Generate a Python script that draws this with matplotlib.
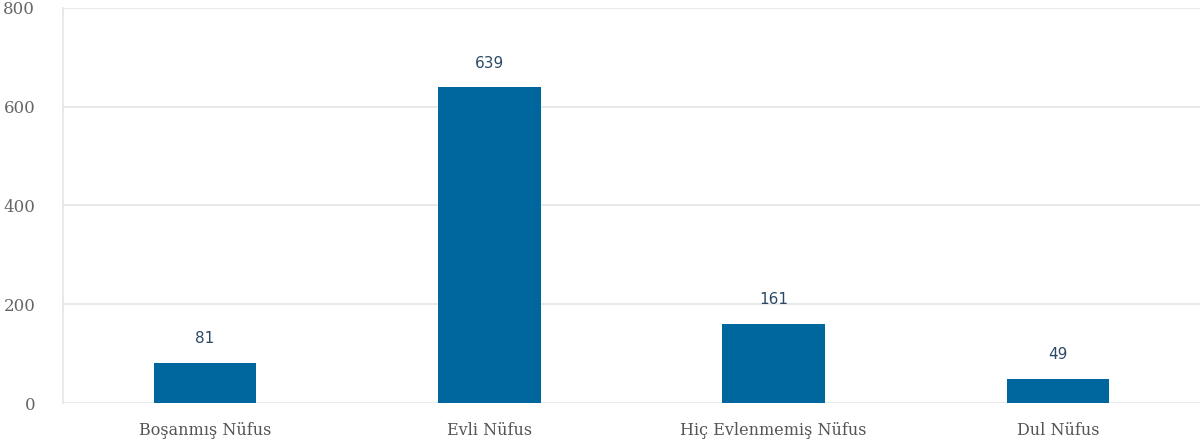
import matplotlib.pyplot as plt

categories = ['Boşanmış Nüfus', 'Evli Nüfus', 'Hiç Evlenmemiş Nüfus', 'Dul Nüfus']
values = [81, 639, 161, 49]
y_ticks = [0, 200, 400, 600, 800]

bar_color = '#00669e'
grid_color = '#e3e6e8'

fig = plt.figure(figsize=(12, 4.48), dpi=100)
ax = fig.add_axes([63 / 1200, 45 / 448, 1 - 63 / 1200, 395 / 448])

x = range(len(categories))
bars = ax.bar(x, values, width=0.36, color=bar_color, zorder=3)

for rect, v in zip(bars, values):
    ax.annotate(str(v), (rect.get_x() + rect.get_width() / 2, v),
                xytext=(0, 12), textcoords='offset points',
                ha='center', va='bottom', fontsize=11,
                color='#2c4a66', family='DejaVu Sans')

ax.set_xlim(-0.5, len(categories) - 0.5)
ax.set_ylim(0, 800)
ax.set_yticks(y_ticks)
ax.set_xticks(list(x))
ax.set_xticklabels(categories, family='DejaVu Serif', fontsize=11.5, color='#555555')
for lbl in ax.get_yticklabels():
    lbl.set_family('DejaVu Serif')
    lbl.set_fontsize(12)
    lbl.set_color('#666666')

ax.grid(axis='y', color=grid_color, linewidth=1.2, zorder=0)
for side in ['top', 'right', 'bottom']:
    ax.spines[side].set_visible(False)
ax.spines['left'].set_color(grid_color)
ax.spines['left'].set_linewidth(1.2)
ax.tick_params(axis='y', length=0, pad=20)
ax.tick_params(axis='x', length=0, pad=14)

fig.savefig('out.png', dpi=100)
